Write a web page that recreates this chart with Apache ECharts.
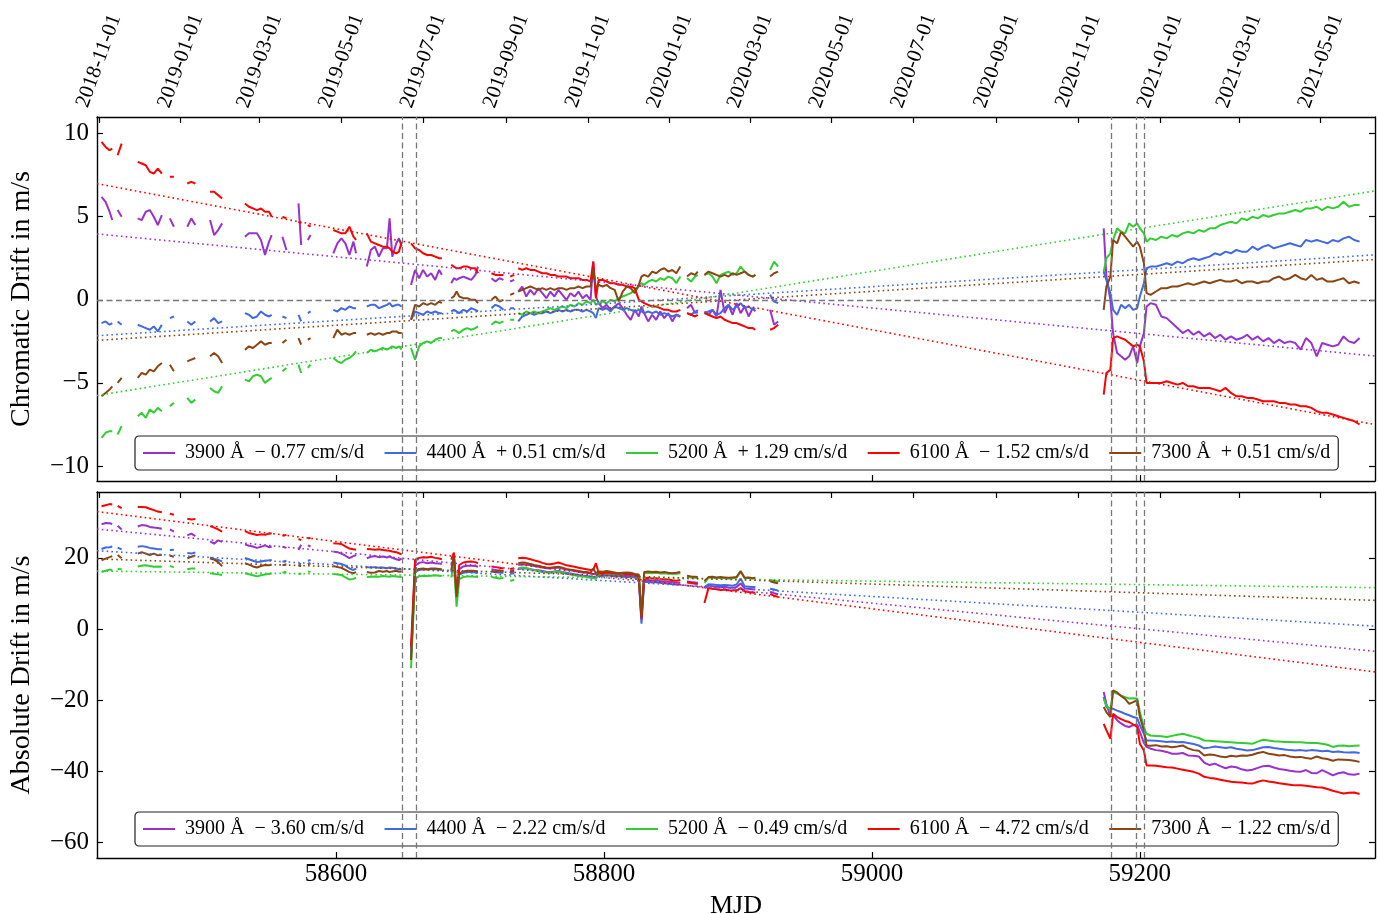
<!DOCTYPE html>
<html>
<head>
<meta charset="utf-8">
<script src="https://cdn.jsdelivr.net/npm/echarts@6/dist/echarts.min.js"></script>
<style>
  html, body { margin: 0; padding: 0; background: #ffffff; }
  #chart { width: 1378px; height: 914px; }
</style>
</head>
<body>
<div id="chart"></div>
<script>
// ---------------------------------------------------------------------------
// Observation epochs (MJD). Epochs whose values are null separate observing runs.
// ---------------------------------------------------------------------------
const mjd = [
  58425, 58428, 58431, 58433, 58435, 58437, 58440, 58446,
  58452, 58455, 58458, 58461, 58464, 58467, 58470, 58473, 58476, 58479, 58484,
  58489, 58492, 58495, 58500,
  58506, 58509, 58512, 58515, 58524,
  58532, 58535, 58538, 58541, 58544, 58547, 58550, 58552, 58556,
  58560, 58563, 58567,
  58572, 58574, 58576, 58579, 58581, 58590,
  58598, 58601, 58604, 58607, 58610, 58613, 58615, 58619,
  58623, 58626, 58629, 58632, 58635, 58638, 58640, 58642, 58645, 58647, 58649, 58653,
  58656, 58659, 58662, 58665, 58668, 58671, 58674, 58677, 58679, 58683,
  58686, 58688, 58690, 58692, 58695, 58698, 58701, 58704, 58706, 58711,
  58716, 58719, 58722, 58725, 58728,
  58730, 58733, 58734,
  58736, 58739, 58742, 58745, 58748, 58751, 58754, 58757, 58760, 58763, 58766, 58769, 58772, 58775, 58778, 58781, 58784, 58787, 58790, 58792, 58794,
  58796, 58799, 58802, 58805, 58808, 58811, 58814, 58817, 58820, 58823, 58826, 58828, 58830, 58833, 58836, 58839, 58842, 58845, 58848, 58851, 58854, 58857, 58859,
  58862, 58865, 58868, 58870, 58872,
  58875, 58878, 58881, 58884, 58887, 58890, 58893, 58896, 58899, 58902, 58905, 58908, 58911, 58913, 58918,
  58924, 58927, 58930, 59000,
  59173, 59175, 59178, 59180, 59183, 59186, 59189, 59192, 59195, 59198, 59200, 59203, 59205, 59208,
  59212, 59216, 59220, 59224, 59228, 59232, 59236, 59240, 59244, 59248, 59252, 59256, 59260, 59264,
  59268, 59272, 59276, 59280, 59284, 59288, 59292, 59296, 59300, 59304, 59308, 59312, 59316, 59320,
  59324, 59328, 59332, 59336, 59340, 59344, 59348, 59352, 59356, 59360, 59364
];

// Wavelength channels (Å)
const wavelengths = [3900, 4400, 5200, 6100, 7300];

// ---------------- Chromatic drift (m/s) ----------------
const chrom3900 = [
  6.2, 5.9, 5.3, 4.8, null, 5.4, 5.0, null,
  4.9, 4.8, 5.3, 5.4, 5.0, 4.5, 5.1, null, 4.9, 4.4, null,
  4.4, 4.9, 4.5, null,
  4.8, 3.9, 4.2, 4.6, null,
  3.8, 4.0, 4.0, 4.0, 3.6, 2.7, 3.5, 3.9, null,
  3.8, 3.0, null,
  5.8, 3.3, null, 3.6, 3.9, null,
  2.8, 3.4, 3.7, 3.4, 2.7, 3.5, 2.8, null,
  2.0, 3.0, 3.2, 2.6, 3.1, 3.1, 4.9, 2.6, 3.4, 3.7, 3.2, null,
  0.9, 1.8, 1.3, 1.8, 1.4, 1.6, 1.2, 1.8, 1.5, null,
  1.0, 1.3, 1.2, 1.3, 1.4, 1.3, 1.2, 1.5, 2.0, null,
  1.3, 1.1, 1.3, 1.2, null,
  1.1, 1.2, null,
  0.5, 0.8, 0.2, 0.6, 0.3, 0.7, 0.4, 0.1, 0.5, 0.2, 0.6, 0.3, 0.0, 0.4, 0.2, 0.5, 0.1, 0.3, 0.0, 2.3, 0.2,
  -0.2, -0.5, -0.3, -0.6, -0.4, -0.2, -0.5, -0.9, -1.2, -0.6, -1.0, -0.4, -0.8, -1.3, -0.9, -1.2, -0.7, -1.1, -0.8, -1.3, -0.9, -1.0, null,
  -0.5, -0.3, -0.8, -0.6, null,
  -0.7, -0.9, -0.6, -1.0, 0.6, -0.8, -0.3, -0.9, -0.2, -0.8, -0.4, -1.0, -0.5, -0.7, null,
  -0.6, -1.5, -1.3, null,
  4.3, 1.4, 0.0, -2.0, -3.2, -3.4, -3.6, -3.4, -2.8, -3.8, -2.8, -2.0, -0.4, -0.2,
  -0.3, -1.0, -1.1, -1.4, -1.7, -2.0, -1.8, -2.1, -1.9, -2.2, -2.0, -2.3, -2.1, -2.4,
  -2.2, -2.4, -2.3, -2.1, -2.4, -2.2, -2.5, -2.3, -2.6, -2.4, -2.6, -2.5, -2.6, -3.0,
  -2.3, -2.6, -3.4, -2.6, -2.7, -2.8, -2.7, -2.2, -2.5, -2.6, -2.3
];
const chrom4400 = [
  -1.4, -1.3, -1.5, -1.4, null, -1.3, -1.5, null,
  -1.5, -1.6, -1.7, -1.8, -1.6, -1.9, -1.5, null, -1.1, -1.0, null,
  -1.3, -1.5, -1.3, null,
  -1.3, -1.1, -1.4, -1.3, null,
  -0.8, -0.9, -1.1, -1.0, -0.7, -0.9, -1.0, -0.9, null,
  -1.0, -1.1, null,
  -0.9, -1.3, null, -0.8, -0.7, null,
  -0.6, -0.7, -0.5, -0.6, -0.4, -0.5, -0.5, null,
  -0.4, -0.3, -0.3, -0.5, -0.4, -0.3, -0.2, -0.4, -0.3, -0.3, -0.4, null,
  -1.2, -0.7, -0.8, -0.9, -0.7, -0.8, -0.7, -0.8, -0.8, null,
  -0.7, -0.6, -0.7, -0.8, -0.6, -0.7, -0.5, -0.6, -0.7, null,
  -0.5, -0.3, -0.4, -0.6, null,
  -0.5, -0.5, null,
  -1.3, -1.0, -0.9, -0.8, -0.9, -0.8, -0.8, -0.7, -0.8, -0.7, -0.6, -0.7, -0.6, -0.7, -0.6, -0.6, -0.7, -0.6, -0.7, -0.8, -1.1,
  -0.5, -0.6, -0.5, -0.7, -0.4, -0.5, -0.6, -0.5, -0.6, -0.7, -0.6, -0.7, -0.8, -0.7, -0.8, -0.7, -0.9, -0.8, -0.9, -1.0, -0.9, -1.0, null,
  -0.8, -0.9, -0.7, -0.8, null,
  -0.8, -0.7, -0.6, -0.9, -0.8, -0.5, -0.3, -0.6, -0.4, -0.2, -0.5, -0.4, -0.6, -0.5, null,
  0.3, -0.1, -0.2, null,
  1.7, 1.2, 0.4, -0.6, -0.9, -0.3, -0.5, -0.3, -0.6, -0.5, 0.2, 1.0, 1.9, 2.0,
  2.0, 2.1, 2.2, 2.1, 2.3, 2.2, 2.4, 2.5, 2.4, 2.5, 2.6, 2.8, 2.7, 2.9,
  2.8, 3.0, 2.9, 2.9, 3.2, 3.0, 3.2, 3.3, 3.1, 3.2, 3.3, 3.4, 3.3, 3.2,
  3.6, 3.5, 3.6, 3.5, 3.4, 3.6, 3.5, 3.7, 3.8, 3.6, 3.5
];
const chrom5200 = [
  -8.3, -8.0, -7.9, -7.9, null, -8.1, -7.6, null,
  -7.0, -6.8, -7.1, -6.6, -6.8, -6.5, -6.7, null, -6.4, -6.2, null,
  -5.9, -6.2, -6.0, null,
  -5.3, -5.5, -5.6, -5.2, null,
  -4.8, -4.9, -4.6, -4.5, -4.6, -5.0, -4.8, -4.7, null,
  -4.3, -4.1, null,
  -3.9, -4.4, null, -4.1, -3.9, null,
  -3.5, -3.7, -3.8, -3.6, -3.5, -3.3, -3.1, null,
  -3.2, -3.0, -3.1, -3.0, -2.9, -3.0, -2.9, -2.8, -2.9, -2.8, -3.0, null,
  -2.9, -3.6, -2.8, -2.6, -2.5, -2.6, -2.4, -2.3, -2.3, null,
  -1.9, -1.8, -1.9, -2.0, -1.8, -1.7, -1.8, -1.7, -1.6, null,
  -1.5, -1.3, -1.4, -1.3, null,
  -1.2, -1.2, null,
  -0.8, -0.9, -0.7, -0.8, -0.7, -0.8, -0.7, -0.6, -0.5, -0.6, -0.5, -0.4, -0.5, -0.3, -0.4, -0.2, -0.3, -0.1, -0.2, 0.0, -0.3,
  -0.2, -0.1, -0.2, 0.0, -0.1, 0.1, 0.2, 0.3, 0.4, 0.6, 0.8, 1.0, 0.9, 1.1, 1.2, 1.1, 1.3, 1.2, 1.4, 1.3, 1.0, 1.4, null,
  1.3, 1.1, 1.4, 1.5, null,
  1.5, 1.6, 1.4, 1.0, 1.5, 1.6, 1.7, 1.5, 1.6, 2.0, 1.7, 1.5, 1.4, 1.5, null,
  1.8, 2.3, 2.0, null,
  1.7, 2.5, 2.8, 3.6, 4.3, 4.1, 4.0, 4.6, 4.4, 4.6, 4.3, 4.0, 3.5, 3.7,
  3.6, 3.8, 3.7, 3.9, 3.8, 4.0, 4.1, 4.0, 4.2, 4.1, 4.3, 4.3, 4.5, 4.6,
  4.7, 4.6, 4.9, 4.8, 5.0, 4.9, 5.1, 5.0, 5.1, 5.2, 5.2, 5.3, 5.4, 5.3,
  5.5, 5.5, 5.6, 5.4, 5.6, 5.5, 5.6, 5.9, 5.6, 5.7, 5.7
];
const chrom6100 = [
  9.5, 9.2, 9.0, 9.1, null, 8.7, 9.4, null,
  8.3, 8.2, 8.1, 7.7, 7.6, 7.9, 7.6, null, 7.4, 7.4, null,
  7.0, 7.1, 7.0, null,
  6.5, 6.5, 6.3, 6.1, null,
  5.8, 5.6, 5.5, 5.4, 5.5, 5.3, 5.3, 5.0, null,
  5.0, 4.9, null,
  4.7, 4.6, null, 4.5, 4.4, null,
  4.2, 4.1, 4.0, 4.0, 4.4, 3.8, 3.6, null,
  4.0, 3.5, 3.4, 3.3, 3.2, 3.2, 3.1, 2.9, 2.8, 2.9, 3.5, null,
  3.4, 3.1, 3.0, 2.8, 2.7, 2.7, 2.6, 2.5, 2.5, null,
  2.1, 2.0, 1.9, 1.9, 2.0, 2.0, 1.9, 1.9, 1.6, null,
  1.6, 1.5, 1.5, 1.5, null,
  1.4, 1.5, null,
  1.9, 1.8, 1.9, 1.8, 1.8, 1.7, 1.6, 1.6, 1.5, 1.5, 1.4, 1.4, 1.4, 1.3, 1.3, 1.3, 1.2, 1.2, 1.1, 2.3, 0.1,
  1.2, 1.2, 1.1, 1.0, 1.0, 0.9, 0.9, 0.8, 0.8, 0.7, 0.0, -0.1, -0.2, -0.3, -0.4, -0.4, -0.5, -0.6, -0.6, -0.7, -0.7, -0.6, null,
  -0.8, -0.9, -1.0, -0.9, null,
  -0.8, -0.9, -1.0, -1.1, -1.0, -1.2, -1.3, -1.4, -1.4, -1.5, -1.6, -1.7, -1.7, -1.8, null,
  -1.8, -1.7, -1.5, null,
  -5.7, -4.4, -4.2, -2.3, -2.2, -2.3, -2.4, -2.6, -2.8, -2.7, -2.8, -3.7, -5.0, -5.0,
  -5.0, -5.0, -4.9, -5.0, -5.1, -5.0, -5.2, -5.2, -5.3, -5.3, -5.3, -5.4, -5.5, -5.3,
  -5.6, -5.8, -5.8, -5.9, -5.9, -6.0, -6.1, -6.1, -6.1, -6.2, -6.2, -6.3, -6.3, -6.4,
  -6.4, -6.5, -6.7, -6.8, -6.8, -6.9, -7.0, -7.1, -7.2, -7.3, -7.5
];
const chrom7300 = [
  -5.8, -5.6, -5.4, -5.2, null, -5.0, -4.7, null,
  -4.7, -4.4, -4.5, -4.2, -4.3, -4.0, -3.8, null, -3.9, -4.3, null,
  -3.7, -3.6, -3.5, null,
  -3.4, -3.2, -3.4, -3.8, null,
  -3.0, -2.8, -2.9, -2.7, -2.5, -2.7, -2.6, -2.6, null,
  -2.6, -2.4, null,
  -2.3, -2.7, null, -2.4, -2.3, null,
  -2.3, -1.8, -2.1, -2.0, -2.1, -2.0, -2.0, null,
  -2.1, -2.0, -2.1, -2.0, -2.1, -2.0, -2.0, -1.9, -1.9, -2.0, -2.0, null,
  -1.2, -0.3, -0.4, -0.2, -0.3, -0.2, -0.3, -0.1, -0.2, null,
  0.1, 0.2, 0.5, 0.2, 0.1, 0.1, 0.0, 0.0, -0.2, null,
  0.0, 0.2, -0.1, 0.0, null,
  0.3, 0.4, null,
  0.5, 0.6, 0.7, 0.8, 0.7, 0.6, 0.7, 0.6, 0.7, 0.6, 0.7, 0.7, 0.6, 0.7, 0.7, 0.8, 0.7, 0.8, 0.8, 1.8, 0.7,
  0.9, 0.8, 0.9, 0.7, 0.6, -0.1, 0.5, 0.8, 0.7, 0.4, 0.9, 1.4, 1.5, 1.4, 1.7, 1.6, 1.8, 1.9, 1.7, 1.8, 1.6, 2.0, null,
  1.4, 1.6, 1.5, 1.7, null,
  1.5, 1.7, 1.6, 1.5, 1.4, 1.5, 1.4, 1.6, 1.5, 1.6, 1.7, 1.5, 1.4, 1.5, null,
  1.4, 1.6, 1.7, null,
  -0.6, 0.8, 1.4, 3.6, 3.4, 4.1, 3.8, 3.5, 3.2, 3.5, 3.2, 2.2, 0.4, 0.3,
  0.5, 0.7, 0.7, 0.8, 0.8, 0.9, 1.0, 0.9, 1.0, 1.1, 1.0, 1.1, 1.2, 1.1,
  1.1, 1.2, 1.0, 1.1, 1.1, 1.0, 1.1, 1.1, 1.3, 1.4, 1.2, 1.3, 1.5, 1.3,
  1.2, 1.5, 1.2, 1.3, 1.1, 1.1, 1.2, 1.3, 1.0, 1.1, 1.0
];

// ---------------- Absolute drift (m/s) ----------------
const abs3900 = [
  29.4, 29.8, 29.7, 29.5, null, 29.0, 28.0, null,
  28.8, 29.2, 29.1, 28.7, 28.5, 28.4, 28.2, null, 28.0, 27.4, null,
  26.3, 26.8, 26.1, null,
  24.6, 24.0, 24.9, 24.5, null,
  23.8, 23.4, 23.2, 22.8, 23.1, 23.5, 23.0, 23.2, null,
  23.1, 22.8, null,
  22.2, 23.7, null, 23.5, 23.2, null,
  21.8, 21.6, 21.2, 20.6, 19.9, 20.5, 20.8, null,
  19.9, 20.3, 20.5, 20.2, 20.4, 20.1, 20.5, 20.0, 19.6, 19.4, 19.8, null,
  -7.0, 17.8, 18.6, 18.8, 18.5, 18.7, 18.5, 18.4, 18.3, null,
  17.8, 20.0, 9.0, 16.8, 17.6, 17.8, 17.8, 17.7, 17.5, null,
  16.8, 16.6, 16.4, 16.3, null,
  16.3, 16.5, null,
  18.0, 18.2, 18.1, 17.9, 17.7, 17.5, 17.3, 17.1, 17.0, 17.2, 17.3, 17.0, 16.7, 16.5, 16.3, 16.1, 15.9, 15.8, 15.6, 15.5, 15.4,
  15.4, 15.3, 15.5, 15.4, 15.2, 15.3, 15.1, 15.0, 15.1, 14.9, 14.5, 2.5, 13.9, 13.8, 13.6, 13.7, 13.5, 13.4, 13.3, 13.2, 13.0, 13.1, null,
  13.4, 13.2, 13.1, 13.0, null,
  11.5, 12.2, 12.0, 11.9, 11.8, 11.9, 11.7, 11.6, 11.8, 12.8, 11.4, 11.3, 11.2, 11.1, null,
  10.5, 10.1, 9.8, null,
  -17.7, -21.0, -24.5, -24.2, -25.6, -26.5, -27.2, -27.5, -27.0, -26.8, -28.9, -32.0, -33.1, -33.6,
  -34.0, -34.2, -34.5, -35.0, -35.0, -34.8, -35.5, -35.6, -35.8, -37.5, -38.2, -37.8, -38.5, -39.1,
  -38.6, -38.8, -39.4, -39.7, -39.5, -39.0, -38.5, -38.4, -38.9, -39.3, -39.5, -39.8, -40.0, -40.1,
  -39.6, -40.4, -40.5, -39.6, -40.3, -41.1, -40.5, -40.2, -40.8, -40.9, -40.6
];
const abs4400 = [
  22.5, 22.9, 23.0, 23.2, null, 22.9, 22.4, null,
  23.1, 23.3, 23.1, 22.8, 22.6, 22.4, 22.4, null, 22.2, 22.3, null,
  21.4, 21.2, 21.5, null,
  20.1, 19.7, 19.4, 19.0, null,
  20.0, 19.6, 19.2, 18.8, 19.0, 19.2, 19.3, 19.4, null,
  18.9, 19.2, null,
  18.4, 18.2, null, 19.2, 19.4, null,
  18.7, 18.5, 18.3, 17.8, 17.0, 16.6, 17.0, null,
  17.4, 17.3, 17.4, 17.2, 17.3, 17.1, 17.3, 17.2, 17.0, 16.8, 16.7, null,
  -8.0, 16.0, 16.6, 16.8, 16.7, 16.9, 16.8, 16.7, 16.6, null,
  16.0, 19.0, 8.5, 15.3, 15.8, 16.0, 16.0, 15.9, 15.8, null,
  16.2, 16.0, 15.8, 15.8, null,
  15.5, 15.7, null,
  16.9, 17.0, 17.0, 16.8, 16.6, 16.5, 16.3, 16.1, 16.0, 16.2, 16.3, 16.0, 15.8, 15.6, 15.4, 15.2, 15.0, 14.9, 14.7, 14.6, 14.5,
  15.0, 14.9, 15.1, 15.0, 14.8, 14.9, 14.7, 14.6, 14.7, 14.5, 14.0, 1.5, 13.3, 13.2, 13.1, 13.2, 13.0, 12.9, 12.8, 12.6, 12.5, 12.6, null,
  13.1, 12.9, 12.8, 12.7, null,
  11.8, 12.6, 12.5, 12.4, 12.3, 12.4, 12.3, 12.2, 12.5, 14.2, 12.0, 11.9, 11.8, 11.8, null,
  11.3, 11.1, 10.8, null,
  -19.1, -21.9, -22.4, -22.4, -22.9, -23.3, -23.8, -24.2, -24.7, -25.0, -27.0, -29.4, -31.3, -31.3,
  -31.4, -31.5, -31.7, -31.6, -31.8, -31.7, -32.0, -32.3, -32.7, -33.5, -33.3, -33.0, -33.2, -33.4,
  -33.2, -33.6, -33.8, -34.1, -34.0, -33.6, -33.2, -33.1, -33.4, -33.6, -33.8, -34.0, -34.1, -34.0,
  -34.2, -34.0, -34.1, -34.3, -34.2, -34.5, -34.4, -34.6, -34.7, -34.6, -34.8
];
const abs5200 = [
  16.0, 16.4, 16.7, 16.6, null, 16.9, 16.8, null,
  17.6, 17.8, 17.9, 17.7, 17.5, 17.6, 17.5, null, 17.7, 17.4, null,
  16.8, 17.0, 17.0, null,
  15.7, 15.5, 15.4, 15.2, null,
  15.7, 15.4, 15.1, 14.8, 15.1, 15.3, 15.5, 15.6, null,
  15.8, 16.1, null,
  15.4, 15.6, null, 16.2, 16.0, null,
  15.5, 15.3, 15.2, 14.5, 13.9, 14.1, 14.4, null,
  14.6, 14.7, 14.8, 14.7, 14.9, 14.8, 14.7, 14.9, 14.8, 14.7, 14.6, null,
  -11.0, 14.2, 14.8, 15.0, 14.9, 15.0, 15.1, 15.0, 14.9, null,
  14.5, 18.5, 6.3, 14.0, 14.6, 14.8, 14.8, 14.7, 14.6, null,
  14.6, 14.4, 14.2, 14.4, null,
  13.6, 13.8, null,
  17.1, 17.3, 17.2, 16.8, 16.5, 16.3, 16.0, 15.9, 15.8, 16.0, 16.1, 15.8, 15.5, 15.3, 15.1, 14.9, 14.8, 14.6, 14.4, 14.3, 14.2,
  15.6, 15.5, 15.7, 15.6, 15.5, 15.6, 15.5, 15.4, 15.5, 15.3, 15.0, 4.5, 15.6, 15.8, 15.7, 15.8, 15.6, 15.7, 15.5, 15.6, 15.5, 15.7, null,
  14.7, 14.5, 14.4, 14.3, null,
  13.0, 14.4, 14.5, 14.3, 14.4, 14.3, 14.2, 14.3, 14.5, 16.3, 14.3, 14.4, 14.2, 14.3, null,
  13.8, 13.6, 13.4, null,
  -19.5, -21.4, -22.8, -17.7, -18.1, -18.7, -19.1, -19.5, -19.4, -19.5, -23.3, -27.5, -29.4, -29.9,
  -30.0, -30.1, -30.3, -30.0, -29.7, -29.4, -29.8, -30.2, -30.6, -31.3, -31.4, -31.5, -31.6, -31.7,
  -31.8, -31.9, -32.0, -32.1, -32.2, -31.6, -31.1, -31.3, -31.5, -31.6, -31.7, -31.7, -31.8, -31.8,
  -31.9, -32.0, -32.0, -32.2, -32.5, -33.1, -32.8, -32.7, -32.9, -32.8, -32.7
];
const abs6100 = [
  34.5, 34.8, 35.1, 35.0, null, 34.6, 34.0, null,
  34.3, 34.3, 34.2, 33.8, 33.4, 33.0, 32.8, null, 32.4, 32.1, null,
  31.0, 30.8, 30.9, null,
  28.9, 28.5, 28.0, 27.4, null,
  27.5, 27.0, 26.7, 26.4, 26.6, 26.5, 26.8, 26.9, null,
  26.2, 26.4, null,
  25.3, 25.0, null, 25.5, 25.6, null,
  24.1, 24.0, 23.9, 23.2, 22.6, 22.4, 22.3, null,
  22.5, 22.4, 22.3, 22.4, 22.2, 22.1, 22.0, 21.8, 21.6, 21.3, 21.0, null,
  -5.0, 19.4, 20.0, 20.2, 20.1, 20.3, 20.0, 19.8, 19.6, null,
  19.5, 21.5, 10.0, 18.0, 18.7, 18.9, 19.0, 18.8, 18.5, null,
  17.6, 17.4, 17.2, 17.0, null,
  16.9, 17.1, null,
  19.9, 20.0, 19.9, 19.6, 19.3, 19.0, 18.6, 18.3, 18.2, 18.4, 18.7, 18.3, 17.9, 17.7, 17.5, 17.2, 17.0, 16.8, 16.6, 16.7, 18.5,
  15.8, 15.7, 15.9, 15.8, 15.6, 15.7, 15.6, 15.4, 15.5, 15.3, 14.8, 3.0, 14.3, 14.4, 14.2, 14.3, 14.1, 14.0, 13.9, 13.7, 13.6, 13.8, null,
  13.2, 13.0, 12.8, 12.7, null,
  7.3, 11.5, 11.3, 11.2, 11.0, 11.1, 10.9, 10.8, 10.9, 11.5, 10.6, 10.4, 10.3, 10.2, null,
  9.8, 9.4, 9.0, null,
  -26.6, -28.4, -30.8, -23.8, -24.7, -25.3, -25.8, -26.1, -26.8, -27.5, -32.2, -34.1, -38.3, -38.3,
  -38.4, -38.6, -38.8, -38.9, -39.2, -39.5, -39.8, -40.1, -40.6, -41.5, -41.8, -42.0, -42.3, -42.6,
  -42.9, -43.0, -43.1, -43.3, -43.4, -42.9, -42.5, -42.8, -43.0, -43.3, -43.5, -43.7, -43.9, -43.9,
  -44.0, -44.2, -44.4, -44.5, -44.9, -45.4, -45.8, -46.2, -46.0, -45.9, -46.3
];
const abs7300 = [
  19.3, 19.8, 20.2, 20.5, null, 20.8, 19.9, null,
  21.2, 21.6, 21.2, 20.8, 21.2, 20.7, 20.9, null, 20.6, 20.3, null,
  19.9, 20.3, 20.7, null,
  19.8, 19.5, 18.8, 17.6, null,
  18.5, 18.1, 17.6, 17.3, 17.7, 18.0, 17.9, 18.1, null,
  17.9, 18.2, null,
  17.9, 17.6, null, 18.2, 18.5, null,
  17.7, 17.4, 17.2, 16.6, 16.0, 15.7, 16.0, null,
  16.0, 15.8, 15.9, 16.3, 16.1, 16.3, 16.0, 16.2, 16.4, 16.1, 16.2, null,
  -8.7, 16.4, 16.9, 17.0, 16.8, 17.0, 17.0, 16.9, 16.8, null,
  16.5, 20.8, 9.0, 15.6, 16.2, 16.4, 16.4, 16.3, 16.2, null,
  16.3, 16.0, 16.5, 16.2, null,
  16.0, 16.2, null,
  18.5, 18.7, 18.6, 18.3, 18.0, 17.8, 17.5, 17.3, 17.2, 17.4, 17.5, 17.2, 16.9, 16.7, 16.5, 16.3, 16.1, 16.0, 15.8, 17.0, 15.7,
  16.2, 16.1, 16.3, 16.1, 15.9, 15.6, 15.8, 15.9, 15.8, 15.5, 15.3, 3.4, 16.0, 16.2, 16.0, 16.1, 15.9, 16.0, 15.8, 15.7, 15.8, 16.0, null,
  15.0, 14.8, 14.7, 14.6, null,
  13.5, 14.6, 14.7, 14.5, 14.6, 14.5, 14.4, 14.5, 14.6, 16.2, 14.4, 14.5, 14.3, 14.4, null,
  13.4, 13.1, 12.9, null,
  -21.9, -23.3, -24.7, -17.2, -17.8, -18.8, -19.6, -21.0, -20.5, -20.0, -24.7, -28.4, -32.7, -32.8,
  -32.6, -33.0, -32.9, -33.2, -33.0, -32.7, -33.5, -34.0, -34.2, -35.5, -35.2, -35.4, -35.8, -36.0,
  -35.6, -35.8, -35.5, -35.6, -35.3, -34.8, -34.5, -35.0, -35.2, -35.5, -35.4, -35.8, -36.0, -35.9,
  -36.2, -36.4, -35.8, -36.3, -36.5, -37.0, -36.6, -36.7, -36.8, -37.0, -37.3
];

// Linear trends: slope in cm/s/d and fitted value (m/s) at the pivot epoch
const TREND_PIVOT = 58900;
const chromSlopes = [-0.77, 0.51, 1.29, -1.52, 0.51];
const chromAtPivot = [0.28, 0.28, 0.42, -0.28, 0.0];
const absSlopes = [-3.60, -2.22, -0.49, -4.72, -1.22];
const absAtPivot = [10.88, 11.38, 13.96, 10.42, 13.86];

// Instrument events (MJD), drawn as dashed verticals
const eventEpochs = [58649.5, 58659.6, 59178.7, 59197.0, 59203.0];

// Axis ticks
const mjdTicks = [58600, 58800, 59000, 59200];
const chromTicks = [-10, -5, 0, 5, 10];
const absTicks = [-60, -40, -20, 0, 20];
const dateLabels = [
  '2018-11-01', '2019-01-01', '2019-03-01', '2019-05-01', '2019-07-01', '2019-09-01',
  '2019-11-01', '2020-01-01', '2020-03-01', '2020-05-01', '2020-07-01', '2020-09-01',
  '2020-11-01', '2021-01-01', '2021-03-01', '2021-05-01'
];

// ---------------------------------------------------------------------------
const chromSeries = [chrom3900, chrom4400, chrom5200, chrom6100, chrom7300];
const absSeries = [abs3900, abs4400, abs5200, abs6100, abs7300];
[...chromSeries, ...absSeries].forEach((arr, i) => {
  if (arr.length !== mjd.length) throw new Error('series ' + i + ' has ' + arr.length + ' values, expected ' + mjd.length);
});

const FONT = 'Liberation Serif';
const COLORS = ['#9932CC', '#4169E1', '#32CD32', '#FF0000', '#8B4513'];
const X_MIN = 58421.6, X_MAX = 59375.5;
const MINUS = '\u2212';
const LEGEND_LINE = 'path://M0,0 L32,0 L32,2 L0,2 Z';

const dateTicks = dateLabels.map(s => {
  const [y, m, d] = s.split('-').map(Number);
  return Date.UTC(y, m - 1, d) / 86400000 + 40587;   // Unix days -> MJD
});

function fmtNum(v) { return String(v).replace('-', MINUS); }
function legendName(wl, slope) {
  const sign = slope < 0 ? MINUS : '+';
  return wl + ' \u00C5  ' + sign + ' ' + Math.abs(slope).toFixed(2) + ' cm/s/d';
}
const chromNames = wavelengths.map((w, i) => legendName(w, chromSlopes[i]));
const absNames = wavelengths.map((w, i) => legendName(w, absSlopes[i]));

const spine = { show: true, onZero: false, lineStyle: { color: '#000', width: 1.4 } };
function ticks(values) {
  return { show: true, inside: true, length: 6, customValues: values, lineStyle: { color: '#000', width: 1.2 } };
}
const noSplit = { show: false };

function xBottom(grid, withLabels) {
  const ax = {
    gridIndex: grid, type: 'value', position: 'bottom', min: X_MIN, max: X_MAX,
    axisLine: spine, axisTick: ticks(mjdTicks), splitLine: noSplit,
    axisLabel: withLabels
      ? { show: true, customValues: mjdTicks, fontFamily: FONT, fontSize: 25, color: '#000', margin: 4, formatter: v => String(v) }
      : { show: false }
  };
  if (withLabels) {
    ax.name = 'MJD';
    ax.nameLocation = 'middle';
    ax.nameGap = 35;
    ax.nameTextStyle = { fontFamily: FONT, fontSize: 26, color: '#000' };
  }
  return ax;
}
function xTop(grid, withLabels) {
  return {
    gridIndex: grid, type: 'value', position: 'top', min: X_MIN, max: X_MAX,
    axisLine: spine, axisTick: ticks(dateTicks), splitLine: noSplit,
    axisLabel: withLabels ? {
      show: true, customValues: dateTicks, rotate: -70, align: 'center', verticalAlign: 'middle',
      margin: 56, fontFamily: FONT, fontSize: 21, color: '#000',
      formatter: v => {
        const k = dateTicks.findIndex(t => Math.abs(t - v) < 0.01);
        return k >= 0 ? dateLabels[k] : '';
      }
    } : { show: false }
  };
}
function yAxisPair(grid, min, max, tickVals, name) {
  return [
    {
      gridIndex: grid, type: 'value', position: 'left', min, max,
      axisLine: spine, axisTick: ticks(tickVals), splitLine: noSplit,
      axisLabel: { show: true, customValues: tickVals, fontFamily: FONT, fontSize: 25, color: '#000', margin: 8, formatter: fmtNum },
      name, nameLocation: 'middle', nameGap: 61,
      nameTextStyle: { fontFamily: FONT, fontSize: 28, color: '#000' }
    },
    {
      gridIndex: grid, type: 'value', position: 'right', min, max,
      axisLine: spine, axisTick: ticks(tickVals), splitLine: noSplit,
      axisLabel: { show: false }
    }
  ];
}

const series = [];
function addPanel(panel, values, names, slopes, atPivot, axisIdx, withZeroLine) {
  values.forEach((vals, i) => {
    series.push({
      type: 'line', name: names[i], xAxisIndex: axisIdx.x, yAxisIndex: axisIdx.y,
      data: mjd.map((t, k) => [t, vals[k]]),
      showSymbol: false, symbol: 'none', connectNulls: false,
      lineStyle: { color: COLORS[i], width: 2 }, itemStyle: { color: COLORS[i] },
      z: 2 + i * 0.01, silent: true
    });
  });
  values.forEach((_, i) => {
    const f = t => atPivot[i] + slopes[i] / 100 * (t - TREND_PIVOT);
    series.push({
      type: 'line', name: 'trend-' + panel + '-' + wavelengths[i], xAxisIndex: axisIdx.x, yAxisIndex: axisIdx.y,
      data: [[X_MIN, f(X_MIN)], [X_MAX, f(X_MAX)]],
      showSymbol: false, symbol: 'none',
      lineStyle: { color: COLORS[i], width: 1.6, type: [1.6, 3.2] },
      z: 3, silent: true
    });
  });
  const marks = eventEpochs.map(v => ({ xAxis: v }));
  if (withZeroLine) marks.push({ yAxis: 0 });
  series.push({
    type: 'line', name: 'events-' + panel, xAxisIndex: axisIdx.x, yAxisIndex: axisIdx.y,
    data: [[X_MIN, null]], showSymbol: false, symbol: 'none', silent: true,
    markLine: {
      silent: true, symbol: ['none', 'none'], label: { show: false }, animation: false,
      lineStyle: { color: '#777777', width: 1.3, type: [6, 3.5] },
      emphasis: { disabled: true },
      data: marks
    },
    z: 4
  });
}

const [yTopL, yTopR] = yAxisPair(0, -10.9, 11.0, chromTicks, 'Chromatic Drift in m/s');
const [yBotL, yBotR] = yAxisPair(1, -64.3, 38.5, absTicks, 'Absolute Drift in m/s');

addPanel('chrom', chromSeries, chromNames, chromSlopes, chromAtPivot, { x: 0, y: 0 }, true);
addPanel('abs', absSeries, absNames, absSlopes, absAtPivot, { x: 2, y: 2 }, false);

function legendBox(names, top) {
  return {
    data: names.map(n => ({ name: n, icon: LEGEND_LINE })),
    left: 135, top, orient: 'horizontal', selectedMode: false,
    itemWidth: 32, itemHeight: 2.2, itemGap: 20.5, padding: [7, 8],
    borderColor: '#222222', borderWidth: 1.2, borderRadius: 4,
    backgroundColor: 'rgba(255,255,255,0.8)',
    textStyle: { fontFamily: FONT, fontSize: 20, color: '#000', padding: [0, 0, 0, 5] }
  };
}

const chart = echarts.init(document.getElementById('chart'), null, { renderer: 'canvas' });
chart.setOption({
  animation: false,
  backgroundColor: '#ffffff',
  textStyle: { fontFamily: FONT },
  grid: [
    { left: 97, right: 3, top: 117, height: 364, outerBoundsMode: 'none' },
    { left: 97, right: 3, top: 492, height: 366, outerBoundsMode: 'none' }
  ],
  xAxis: [xBottom(0, false), xTop(0, true), xBottom(1, true), xTop(1, false)],
  yAxis: [yTopL, yTopR, yBotL, yBotR],
  legend: [legendBox(chromNames, 436), legendBox(absNames, 812)],
  series
});
</script>
</body>
</html>
